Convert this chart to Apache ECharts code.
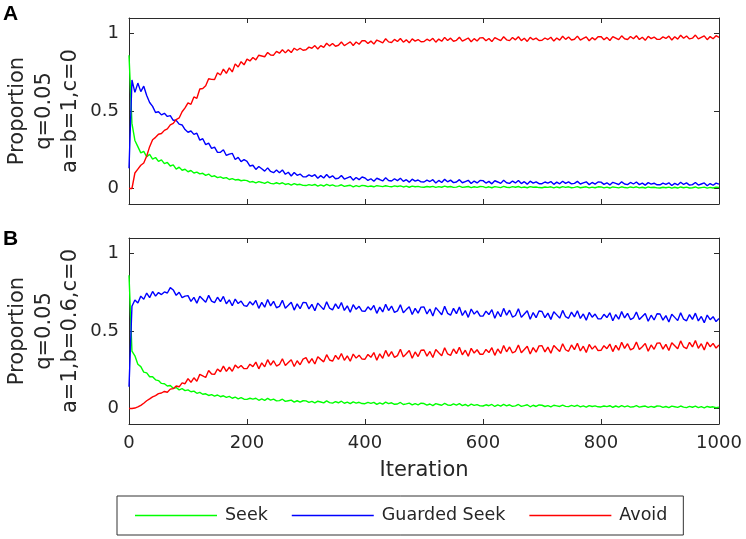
<!DOCTYPE html>
<html><head><meta charset="utf-8">
<script src="https://cdn.jsdelivr.net/npm/echarts@6/dist/echarts.min.js"></script>
<style>html,body{margin:0;padding:0;background:#fff}#c{width:746px;height:539px}</style>
</head><body><div id="c"></div>
<script>
const iterationStep = 5;
const xTicks = [0, 200, 400, 600, 800, 1000];
const yTicks = [0, 0.5, 1];
const seriesNames = ['Seek', 'Guarded Seek', 'Avoid'];
const panelLabels = ['A', 'B'];
const panelTitlesA = ['Proportion', 'q=0.05', 'a=b=1,c=0'];
const panelTitlesB = ['Proportion', 'q=0.05', 'a=1,b=0.6,c=0'];

const seekA = [
0.86,0.42,0.31,0.27,0.23,0.24,0.205,0.22,0.19,0.2,0.175,0.185,0.16,0.168,0.145,0.152,0.125,0.138,0.118,0.124,
0.108,0.116,0.1,0.106,0.094,0.098,0.085,0.093,0.077,0.082,0.07,0.075,0.066,0.07,0.058,0.064,0.055,0.058,0.05,0.054,
0.051,0.041,0.045,0.036,0.044,0.039,0.033,0.042,0.033,0.03,0.037,0.03,0.037,0.026,0.031,0.022,0.031,0.024,0.027,0.02,
0.019,0.025,0.02,0.026,0.015,0.023,0.016,0.026,0.018,0.023,0.015,0.017,0.024,0.014,0.018,0.021,0.011,0.019,0.012,0.02,
0.018,0.012,0.016,0.011,0.018,0.015,0.012,0.018,0.014,0.011,0.017,0.013,0.017,0.01,0.015,0.008,0.015,0.011,0.014,0.009,
0.008,0.013,0.01,0.014,0.007,0.012,0.008,0.015,0.01,0.013,0.007,0.009,0.015,0.007,0.01,0.013,0.006,0.011,0.007,0.013,
0.012,0.006,0.011,0.005,0.012,0.009,0.006,0.014,0.008,0.006,0.012,0.008,0.013,0.006,0.01,0.005,0.012,0.008,0.01,0.006,
0.005,0.01,0.007,0.011,0.004,0.01,0.005,0.012,0.007,0.011,0.005,0.007,0.012,0.005,0.008,0.011,0.004,0.009,0.005,0.011,
0.01,0.004,0.009,0.003,0.01,0.007,0.004,0.011,0.006,0.004,0.01,0.006,0.011,0.004,0.008,0.003,0.01,0.006,0.008,0.004,
0.003,0.008,0.005,0.009,0.002,0.008,0.003,0.01,0.005,0.009,0.003,0.005,0.01,0.003,0.006,0.009,0.002,0.007,0.003,0.009,
0.007];

const guardedA = [
0.13,0.7,0.62,0.68,0.625,0.66,0.6,0.555,0.53,0.49,0.495,0.475,0.485,0.465,0.47,0.44,0.44,0.415,0.41,0.38,
0.363,0.371,0.349,0.357,0.312,0.321,0.283,0.293,0.259,0.267,0.233,0.234,0.25,0.213,0.222,0.227,0.187,0.201,0.173,0.187,
0.175,0.145,0.15,0.123,0.142,0.127,0.112,0.133,0.11,0.102,0.12,0.102,0.12,0.092,0.105,0.081,0.103,0.085,0.093,0.076,
0.075,0.088,0.078,0.089,0.066,0.083,0.068,0.09,0.07,0.082,0.063,0.066,0.084,0.061,0.069,0.077,0.054,0.071,0.057,0.074,
0.068,0.052,0.063,0.047,0.066,0.058,0.049,0.069,0.052,0.048,0.063,0.051,0.066,0.046,0.057,0.041,0.06,0.048,0.055,0.043,
0.042,0.054,0.045,0.057,0.036,0.052,0.039,0.059,0.043,0.054,0.038,0.042,0.057,0.037,0.045,0.053,0.032,0.048,0.036,0.052,
0.051,0.035,0.046,0.03,0.05,0.042,0.033,0.053,0.037,0.033,0.048,0.036,0.052,0.032,0.044,0.028,0.047,0.035,0.043,0.031,
0.031,0.042,0.035,0.045,0.027,0.041,0.03,0.047,0.033,0.043,0.03,0.033,0.046,0.029,0.036,0.043,0.025,0.039,0.028,0.042,
0.041,0.027,0.037,0.023,0.04,0.033,0.026,0.043,0.029,0.025,0.039,0.029,0.042,0.025,0.035,0.022,0.038,0.028,0.034,0.024,
0.024,0.035,0.027,0.037,0.019,0.033,0.023,0.04,0.026,0.036,0.022,0.025,0.039,0.022,0.029,0.036,0.018,0.032,0.021,0.035,
0.028];

const avoidA = [
0,0,0.1,0.125,0.15,0.165,0.21,0.27,0.315,0.33,0.35,0.355,0.375,0.385,0.41,0.42,0.445,0.455,0.495,0.52,
0.552,0.543,0.591,0.582,0.642,0.645,0.663,0.708,0.704,0.703,0.747,0.732,0.77,0.743,0.778,0.752,0.804,0.784,0.818,0.798,
0.835,0.823,0.845,0.83,0.86,0.855,0.85,0.878,0.861,0.86,0.885,0.873,0.895,0.875,0.895,0.877,0.905,0.892,0.905,0.892,
0.895,0.912,0.905,0.922,0.9,0.922,0.91,0.937,0.92,0.936,0.918,0.924,0.945,0.922,0.934,0.946,0.923,0.945,0.931,0.953,
0.954,0.935,0.951,0.932,0.958,0.949,0.94,0.966,0.946,0.942,0.962,0.948,0.968,0.944,0.959,0.94,0.965,0.951,0.961,0.947,
0.948,0.963,0.953,0.969,0.944,0.964,0.95,0.975,0.955,0.97,0.95,0.956,0.976,0.951,0.961,0.971,0.947,0.967,0.952,0.972,
0.973,0.953,0.968,0.948,0.973,0.963,0.954,0.979,0.959,0.954,0.974,0.959,0.979,0.954,0.969,0.949,0.975,0.96,0.97,0.955,
0.956,0.971,0.961,0.976,0.951,0.971,0.957,0.982,0.962,0.977,0.958,0.963,0.983,0.958,0.968,0.978,0.953,0.973,0.959,0.979,
0.98,0.96,0.975,0.955,0.98,0.97,0.96,0.985,0.966,0.961,0.981,0.966,0.986,0.961,0.976,0.956,0.982,0.967,0.977,0.962,
0.963,0.978,0.968,0.983,0.958,0.979,0.964,0.989,0.969,0.984,0.965,0.97,0.99,0.965,0.975,0.985,0.96,0.98,0.966,0.986,
0.975];

const seekB = [
0.86,0.37,0.34,0.285,0.27,0.235,0.23,0.205,0.205,0.185,0.18,0.162,0.16,0.145,0.148,0.13,0.135,0.12,0.128,0.115,
0.12,0.108,0.112,0.098,0.104,0.092,0.095,0.084,0.09,0.08,0.087,0.076,0.082,0.072,0.078,0.066,0.074,0.062,0.07,0.06,
0.059,0.066,0.06,0.066,0.053,0.062,0.053,0.065,0.054,0.06,0.049,0.051,0.06,0.046,0.05,0.054,0.041,0.05,0.041,0.05,
0.049,0.039,0.046,0.036,0.047,0.042,0.036,0.049,0.038,0.035,0.045,0.037,0.047,0.034,0.041,0.031,0.043,0.035,0.04,0.032,
0.031,0.039,0.033,0.04,0.027,0.037,0.028,0.041,0.031,0.037,0.027,0.029,0.039,0.026,0.03,0.035,0.023,0.032,0.024,0.034,
0.032,0.022,0.029,0.019,0.031,0.026,0.021,0.033,0.023,0.02,0.03,0.022,0.031,0.019,0.026,0.016,0.028,0.02,0.025,0.017,
0.016,0.024,0.018,0.026,0.013,0.023,0.015,0.027,0.017,0.024,0.014,0.017,0.026,0.014,0.019,0.024,0.011,0.021,0.013,0.023,
0.021,0.013,0.019,0.011,0.021,0.017,0.013,0.022,0.014,0.012,0.02,0.014,0.021,0.011,0.017,0.009,0.019,0.013,0.017,0.011,
0.01,0.016,0.012,0.018,0.008,0.016,0.009,0.019,0.011,0.017,0.009,0.011,0.018,0.009,0.013,0.016,0.007,0.014,0.008,0.016,
0.015,0.007,0.013,0.005,0.015,0.011,0.007,0.016,0.009,0.006,0.014,0.008,0.015,0.006,0.012,0.004,0.013,0.008,0.011,0.005,
0.009];

const guardedB = [
0.14,0.66,0.7,0.68,0.725,0.705,0.745,0.715,0.755,0.725,0.748,0.735,0.752,0.745,0.78,0.765,0.73,0.75,0.715,0.725,
0.728,0.691,0.717,0.68,0.724,0.705,0.686,0.73,0.693,0.683,0.718,0.689,0.723,0.676,0.701,0.663,0.706,0.677,0.693,0.664,
0.66,0.689,0.668,0.697,0.646,0.685,0.654,0.703,0.662,0.691,0.65,0.659,0.698,0.647,0.666,0.686,0.635,0.675,0.644,0.684,
0.683,0.642,0.672,0.631,0.68,0.659,0.638,0.688,0.647,0.636,0.675,0.644,0.684,0.633,0.662,0.621,0.67,0.64,0.659,0.628,
0.627,0.656,0.636,0.665,0.614,0.654,0.623,0.672,0.632,0.661,0.62,0.63,0.669,0.618,0.638,0.657,0.606,0.646,0.615,0.654,
0.655,0.61,0.642,0.597,0.651,0.628,0.605,0.659,0.614,0.602,0.646,0.612,0.655,0.6,0.632,0.588,0.642,0.609,0.63,0.597,
0.596,0.628,0.606,0.638,0.582,0.626,0.592,0.646,0.602,0.634,0.59,0.6,0.644,0.588,0.61,0.631,0.576,0.619,0.586,0.629,
0.626,0.586,0.615,0.575,0.624,0.604,0.583,0.633,0.592,0.582,0.622,0.591,0.631,0.581,0.61,0.57,0.62,0.589,0.609,0.579,
0.578,0.608,0.587,0.617,0.566,0.606,0.576,0.625,0.584,0.614,0.574,0.584,0.623,0.574,0.594,0.613,0.563,0.602,0.571,0.611,
0.61,0.57,0.599,0.558,0.608,0.588,0.567,0.617,0.576,0.566,0.606,0.575,0.615,0.565,0.594,0.554,0.603,0.573,0.592,0.561,
0.58];

const avoidB = [
0,0,0.003,0.01,0.02,0.034,0.05,0.062,0.075,0.083,0.096,0.1,0.11,0.105,0.125,0.128,0.145,0.14,0.165,0.16,
0.193,0.169,0.198,0.176,0.22,0.21,0.2,0.245,0.223,0.22,0.255,0.238,0.273,0.239,0.266,0.24,0.28,0.261,0.278,0.257,
0.257,0.286,0.27,0.299,0.256,0.294,0.269,0.315,0.28,0.308,0.274,0.284,0.321,0.277,0.296,0.315,0.271,0.308,0.282,0.319,
0.328,0.293,0.322,0.287,0.334,0.317,0.301,0.347,0.313,0.305,0.343,0.317,0.355,0.311,0.34,0.305,0.351,0.325,0.344,0.319,
0.318,0.349,0.33,0.361,0.312,0.353,0.324,0.375,0.336,0.367,0.33,0.341,0.382,0.333,0.353,0.374,0.324,0.365,0.335,0.376,
0.377,0.338,0.368,0.329,0.38,0.36,0.341,0.392,0.352,0.343,0.384,0.354,0.395,0.346,0.376,0.337,0.388,0.358,0.379,0.35,
0.35,0.381,0.361,0.392,0.343,0.384,0.355,0.406,0.366,0.397,0.358,0.369,0.409,0.36,0.381,0.401,0.352,0.393,0.363,0.404,
0.405,0.365,0.396,0.356,0.407,0.387,0.368,0.418,0.379,0.369,0.41,0.38,0.421,0.371,0.402,0.362,0.413,0.383,0.404,0.374,
0.375,0.405,0.386,0.416,0.367,0.407,0.376,0.427,0.388,0.418,0.378,0.388,0.429,0.38,0.399,0.42,0.37,0.41,0.382,0.422,
0.423,0.383,0.414,0.374,0.424,0.405,0.385,0.436,0.397,0.386,0.427,0.397,0.438,0.388,0.418,0.378,0.429,0.399,0.42,0.39,
0.41];

// ---- chart ----
const colors = ['#00ff00', '#0000ff', '#ff0000'];
const FONT = 'DejaVu Sans';
const TXT = '#262626';
const AX = '#2b2b2b';
const pairs = arr => arr.map((v, i) => [i * iterationStep, v]);

const grids = [
  {left: 129, top: 18, width: 590, height: 186},
  {left: 129, top: 238, width: 590, height: 186}
];

function xAx(g, pos, labels) {
  return {
    gridIndex: g, type: 'value', position: pos, min: xTicks[0], max: xTicks[xTicks.length - 1], interval: 200,
    axisLine: {show: true, onZero: false, lineStyle: {color: AX, width: 1}},
    axisTick: {show: true, inside: true, length: 5, lineStyle: {color: AX}},
    axisLabel: {show: labels, color: TXT, fontSize: 18, fontFamily: FONT, margin: 10, formatter: v => String(v)},
    splitLine: {show: false},
    name: labels ? 'Iteration' : '', nameLocation: 'middle', nameGap: 36,
    nameTextStyle: {color: TXT, fontSize: 21, fontFamily: FONT}
  };
}
function yAx(g, pos, labels) {
  return {
    gridIndex: g, type: 'value', position: pos, min: -0.1, max: 1.1,
    axisLine: {show: true, onZero: false, lineStyle: {color: AX, width: 1}},
    axisTick: {show: true, inside: true, length: 5, customValues: yTicks, lineStyle: {color: AX}},
    axisLabel: {show: labels, customValues: yTicks, color: TXT, fontSize: 18, fontFamily: FONT, margin: 10, formatter: v => String(v)},
    splitLine: {show: false}
  };
}

function lineSeries(name, data, idx, color) {
  return {
    name, type: 'line', data: pairs(data), xAxisIndex: idx, yAxisIndex: idx,
    symbol: 'none', showSymbol: false, animation: false,
    lineStyle: {color, width: 1.4}, itemStyle: {color}
  };
}

function titleTexts(lines, cy) {
  const xs = [18, 45, 71];
  return lines.map((t, i) => ({
    type: 'text', x: xs[i], y: cy, rotation: Math.PI / 2,
    style: {text: t, fill: TXT, font: '21px "DejaVu Sans"', align: 'center', verticalAlign: 'middle'}
  }));
}

const option = {
  backgroundColor: '#fff',
  animation: false,
  grid: grids,
  xAxis: [xAx(0, 'bottom', false), xAx(0, 'top', false), xAx(1, 'bottom', true), xAx(1, 'top', false)],
  yAxis: [yAx(0, 'left', true), yAx(0, 'right', false), yAx(1, 'left', true), yAx(1, 'right', false)],
  legend: {
    data: seriesNames.map(n => ({name: n, icon: 'rect'})), left: 117, top: 496, orient: 'horizontal',
    itemWidth: 82, itemHeight: 1.3, itemGap: 24,
    padding: [10, 16, 10, 18], borderColor: '#333', borderWidth: 1, backgroundColor: '#fff',
    textStyle: {color: TXT, fontSize: 17.5, fontFamily: FONT, lineHeight: 19, padding: [0, 0, 0, 3]}
  },
  series: [
    lineSeries(seriesNames[0], seekA, 0, colors[0]),
    lineSeries(seriesNames[1], guardedA, 0, colors[1]),
    lineSeries(seriesNames[2], avoidA, 0, colors[2]),
    lineSeries(seriesNames[0], seekB, 2, colors[0]),
    lineSeries(seriesNames[1], guardedB, 2, colors[1]),
    lineSeries(seriesNames[2], avoidB, 2, colors[2])
  ],
  graphic: [
    {type: 'text', left: 3, top: 4, style: {text: panelLabels[0], fill: '#000', font: 'bold 21px "Liberation Sans"'}},
    {type: 'text', left: 3, top: 229, style: {text: panelLabels[1], fill: '#000', font: 'bold 21px "Liberation Sans"'}},
    ...titleTexts(panelTitlesA, 111),
    ...titleTexts(panelTitlesB, 331)
  ]
};

const chart = echarts.init(document.getElementById('c'), null, {renderer: 'canvas'});
chart.setOption(option);
</script>
</body></html>
